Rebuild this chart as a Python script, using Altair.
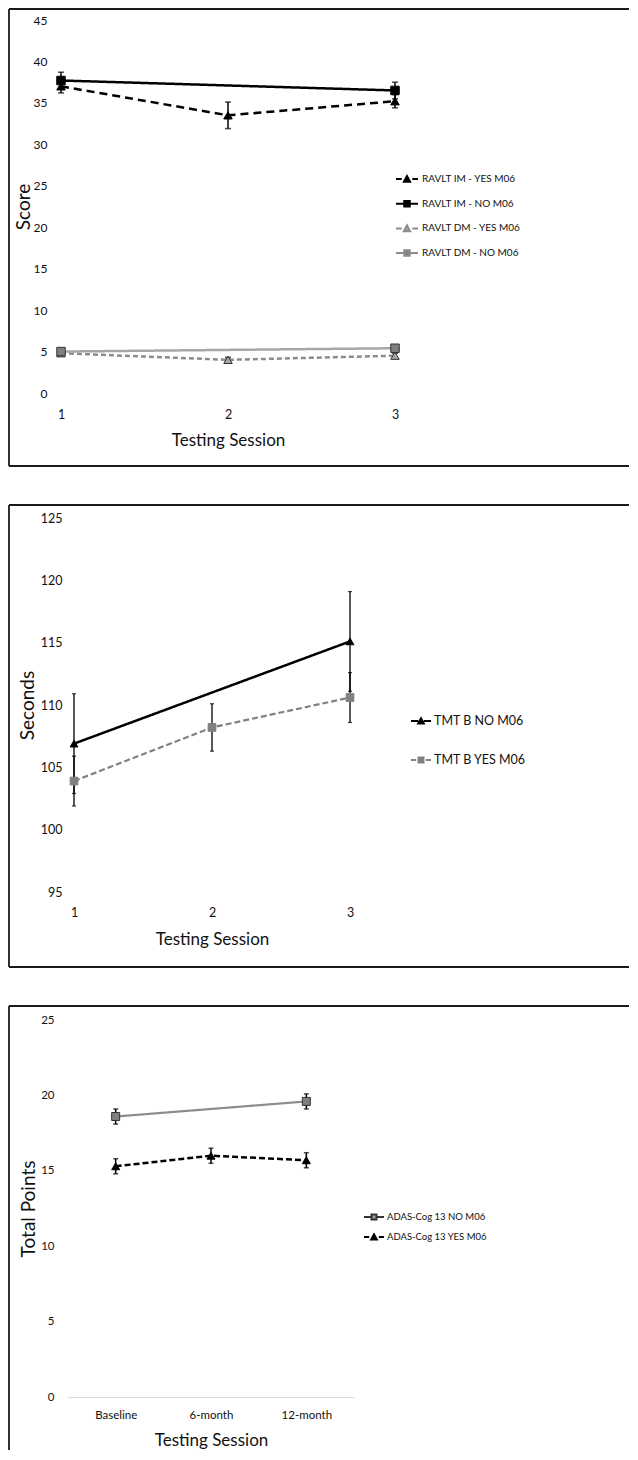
import altair as alt
import pandas as pd

FONT = "Lato"

# ---------------- Panel 1 : RAVLT ----------------
p1_sessions = [1, 2, 3]
p1_series = ["RAVLT IM - YES M06", "RAVLT IM - NO M06", "RAVLT DM - YES M06", "RAVLT DM - NO M06"]
p1_im_yes = [37.0, 33.5, 35.2]
p1_im_yes_err = [0.8, 1.6, 0.8]
p1_im_no = [37.7, None, 36.5]
p1_im_no_err = [1.0, None, 1.0]
p1_dm_yes = [4.8, 4.0, 4.5]
p1_dm_yes_err = [0.3, 0.3, 0.3]
p1_dm_no = [5.0, None, 5.4]
p1_dm_no_err = [0.3, None, 0.3]
p1_yticks = [0, 5, 10, 15, 20, 25, 30, 35, 40, 45]

# ---------------- Panel 2 : TMT B ----------------
p2_sessions = [1, 2, 3]
p2_series = ["TMT B NO M06", "TMT B YES M06"]
p2_no = [106.9, None, 115.1]
p2_no_err = [4.0, None, 4.0]
p2_yes = [103.9, 108.2, 110.6]
p2_yes_err = [2.0, 1.9, 2.0]
p2_yticks = [95, 100, 105, 110, 115, 120, 125]

# ---------------- Panel 3 : ADAS-Cog 13 ----------------
p3_sessions = ["Baseline", "6-month", "12-month"]
p3_series = ["ADAS-Cog 13 NO M06", "ADAS-Cog 13 YES M06"]
p3_no = [18.6, None, 19.6]
p3_no_err = [0.5, None, 0.5]
p3_yes = [15.3, 16.0, 15.7]
p3_yes_err = [0.5, 0.5, 0.5]
p3_yticks = [0, 5, 10, 15, 20, 25]


def long(sessions, series, values, errs):
    rows = []
    for name, vals, es in zip(series, values, errs):
        for s, v, e in zip(sessions, vals, es):
            if v is None:
                continue
            rows.append({"session": s, "series": name, "value": v, "lo": v - e, "hi": v + e})
    return pd.DataFrame(rows)


def legend_path(marker, dashed):
    if marker == "tri":
        m = "M-0.28,0.25L0,-0.27L0.28,0.25Z"
    else:
        m = "M-0.25,-0.25H0.25V0.25H-0.25Z"
    if dashed:
        line = "M-1,0H-0.48M0.48,0H1"
    else:
        line = "M-1,0H-0.28M0.28,0H1"
    return line + m


BOX_L, BOX_R = -52, 568


def box(y0, y1, bottom=True):
    d = pd.DataFrame({"k": [0]})
    base = alt.Chart(d).mark_rule(stroke="#1a1a1a", strokeWidth=1.8)
    parts = [
        base.encode(x=alt.value(BOX_L), y=alt.value(y0), y2=alt.value(y1)),
        base.encode(x=alt.value(BOX_L), x2=alt.value(BOX_R), y=alt.value(y0)),
    ]
    if bottom:
        parts.append(base.encode(x=alt.value(BOX_L), x2=alt.value(BOX_R), y=alt.value(y1)))
    return parts


def panel(df, series, st, xscale, yscale, xaxis, yaxis, w, h, leg, ybox, bottom=True):
    X = lambda f: alt.X(f"{f}:O", scale=xscale, axis=xaxis, sort=None)
    Ydef = lambda f: alt.Y(f"{f}:Q", scale=yscale, axis=yaxis)
    dom = series

    lines = alt.Chart(df).mark_line().encode(
        x=X("session"),
        y=Ydef("value"),
        stroke=alt.Stroke("series:N", scale=alt.Scale(domain=dom, range=st["line"]), legend=None),
        strokeDash=alt.StrokeDash("series:N", scale=alt.Scale(domain=dom, range=st["dash"]), legend=None),
        strokeWidth=alt.StrokeWidth("series:N", scale=alt.Scale(domain=dom, range=st["lw"]), legend=None),
    )
    rules = alt.Chart(df).mark_rule(color="black", strokeWidth=st["ebw"]).encode(
        x=X("session"), y=Ydef("lo"), y2="hi:Q"
    )
    caps_lo = alt.Chart(df).mark_tick(color="black", orient="horizontal", size=st["cap"], thickness=st["ebw"]).encode(
        x=X("session"), y=Ydef("lo")
    )
    caps_hi = alt.Chart(df).mark_tick(color="black", orient="horizontal", size=st["cap"], thickness=st["ebw"]).encode(
        x=X("session"), y=Ydef("hi")
    )
    pts = alt.Chart(df).mark_point(filled=True, size=st["msize"], strokeWidth=1, opacity=1).encode(
        x=X("session"),
        y=Ydef("value"),
        shape=alt.Shape("series:N", scale=alt.Scale(domain=dom, range=st["shape"]), legend=None),
        fill=alt.Fill("series:N", scale=alt.Scale(domain=dom, range=st["mfill"]), legend=None),
        stroke=alt.Stroke("series:N", scale=alt.Scale(domain=dom, range=st["mstroke"]), legend=None),
    )
    L = alt.Legend(
        title=None, orient="none", legendX=leg["x"], legendY=leg["y"], direction="vertical",
        labelFont=FONT, labelFontSize=leg["fs"], labelColor="#111111", labelOffset=leg["off"],
        symbolSize=leg["size"], symbolStrokeWidth=leg["sw"], symbolOpacity=1,
        rowPadding=leg["rp"], padding=0, labelLimit=300,
    )
    legend_layer = alt.Chart(df).mark_point(filled=True).encode(
        shape=alt.Shape("series:N", scale=alt.Scale(domain=dom, range=st["lpath"]), legend=L),
        fill=alt.Fill("series:N", scale=alt.Scale(domain=dom, range=st["lfill"]), legend=L),
        stroke=alt.Stroke("series:N", scale=alt.Scale(domain=dom, range=st["lstroke"]), legend=L),
    ).transform_filter("false")

    layers = box(*ybox, bottom=bottom) + [lines, rules, caps_lo, caps_hi, pts, legend_layer]
    return alt.layer(*layers).resolve_scale(
        stroke="independent", fill="independent", shape="independent",
        strokeDash="independent", strokeWidth="independent"
    ).properties(width=w, height=h)


def yax(values, title, pad, fs, tx, ty, offset=0):
    return alt.Axis(values=values, domain=False, ticks=False, tickSize=0, grid=False, labelPadding=pad,
                    labelFont=FONT, labelFontSize=fs, labelColor="#111111", title=title,
                    titleFont=FONT, titleFontSize=19, titleFontWeight="normal", titleColor="#111111",
                    titleX=tx, titleY=ty, titleBaseline="middle", titleAngle=270, offset=offset)


def xax(title, pad, fs, ty, domain=False):
    kw = dict(domain=domain, ticks=False, tickSize=0, grid=False, labelPadding=pad, labelFlush=False,
              labelOverlap=False, labelFont=FONT, labelFontSize=fs, labelColor="#111111", labelAngle=0,
              title=title, titleFont=FONT, titleFontSize=17, titleFontWeight="normal", titleColor="#111111",
              titleY=ty, titleBaseline="middle")
    if domain:
        kw["domainColor"] = "#d9d9d9"
        kw["domainWidth"] = 1
    return alt.Axis(**kw)


# ---- Panel 1 build ----
df1 = long(p1_sessions, p1_series, [p1_im_yes, p1_im_no, p1_dm_yes, p1_dm_no],
           [p1_im_yes_err, p1_im_no_err, p1_dm_yes_err, p1_dm_no_err])
st1 = dict(
    line=["#000000", "#000000", "#8c8c8c", "#a6a6a6"],
    dash=[[8, 5], [1, 0], [5, 3], [1, 0]],
    lw=[2.5, 2.5, 2, 2],
    ebw=1.5, cap=6, msize=72,
    shape=["triangle-up", "square", "triangle-up", "square"],
    mfill=["#000000", "#000000", "#a6a6a6", "#808080"],
    mstroke=["#000000", "#000000", "#333333", "#333333"],
    lpath=[legend_path("tri", True), legend_path("sq", False), legend_path("tri", True), legend_path("sq", False)],
    lfill=["#000000", "#000000", "#a6a6a6", "#808080"],
    lstroke=["#000000", "#000000", "#8c8c8c", "#8c8c8c"],
)
W1, H1 = 334, 373
p1 = panel(
    df1, p1_series, st1,
    alt.Scale(type="point", domain=p1_sessions, padding=0, range=[0, 334]),
    alt.Scale(domain=[0, 45], nice=False),
    xax("Testing Session", 15, 12.5, 47),
    yax(p1_yticks, "Score", 14, 12, -38, H1 / 2),
    W1, H1,
    dict(x=334, y=147, fs=10, off=3, size=484, sw=2, rp=5.7),
    (-11, 446),
)

# ---- Panel 2 build ----
df2 = long(p2_sessions, p2_series, [p2_no, p2_yes], [p2_no_err, p2_yes_err])
st2 = dict(
    line=["#000000", "#808080"],
    dash=[[1, 0], [6, 3]],
    lw=[2.5, 2.2],
    ebw=1.3, cap=4, msize=60,
    shape=["triangle-up", "square"],
    mfill=["#000000", "#808080"],
    mstroke=["#000000", "#808080"],
    lpath=[legend_path("tri", False), legend_path("sq", True)],
    lfill=["#000000", "#808080"],
    lstroke=["#000000", "#808080"],
)
W2, H2 = 289, 374
p2 = panel(
    df2, p2_series, st2,
    alt.Scale(type="point", domain=p2_sessions, padding=0, range=[13, 289]),
    alt.Scale(domain=[95, 125], nice=False, zero=False),
    xax("Testing Session", 14.5, 12.5, 47),
    yax(p2_yticks, "Seconds", 12, 12.5, -47, H2 / 2, offset=-13),
    W2, H2,
    dict(x=349, y=192, fs=12.5, off=2, size=400, sw=2, rp=21),
    (-13, 449),
)

# ---- Panel 3 build ----
df3 = long(p3_sessions, p3_series, [p3_no, p3_yes], [p3_no_err, p3_yes_err])
st3 = dict(
    line=["#8c8c8c", "#000000"],
    dash=[[1, 0], [6, 3]],
    lw=[2.2, 2.5],
    ebw=1.5, cap=5, msize=64,
    shape=["square", "triangle-up"],
    mfill=["#808080", "#000000"],
    mstroke=["#333333", "#000000"],
    lpath=[legend_path("sq", False), legend_path("tri", True)],
    lfill=["#a0a0a0", "#000000"],
    lstroke=["#333333", "#000000"],
)
W3, H3 = 293, 377
p3 = panel(
    df3, p3_series, st3,
    alt.Scale(type="point", domain=p3_sessions, padding=0.5, range=[7, 293]),
    alt.Scale(domain=[0, 25], nice=False),
    xax("Testing Session", 12.5, 11.5, 43, domain=True),
    yax(p3_yticks, "Total Points", 14, 11.5, -40, H3 / 2, offset=-7),
    W3, H3,
    dict(x=302, y=186, fs=9.5, off=2, size=400, sw=2, rp=2),
    (-14, 430),
    bottom=False,
)

chart = alt.vconcat(p1, p2, p3, spacing=37).properties(padding=0).configure(
    font=FONT, view=alt.ViewConfig(strokeWidth=0, stroke="transparent")
)

chart.save("out.html", embed_options={"renderer": "svg", "actions": False})
